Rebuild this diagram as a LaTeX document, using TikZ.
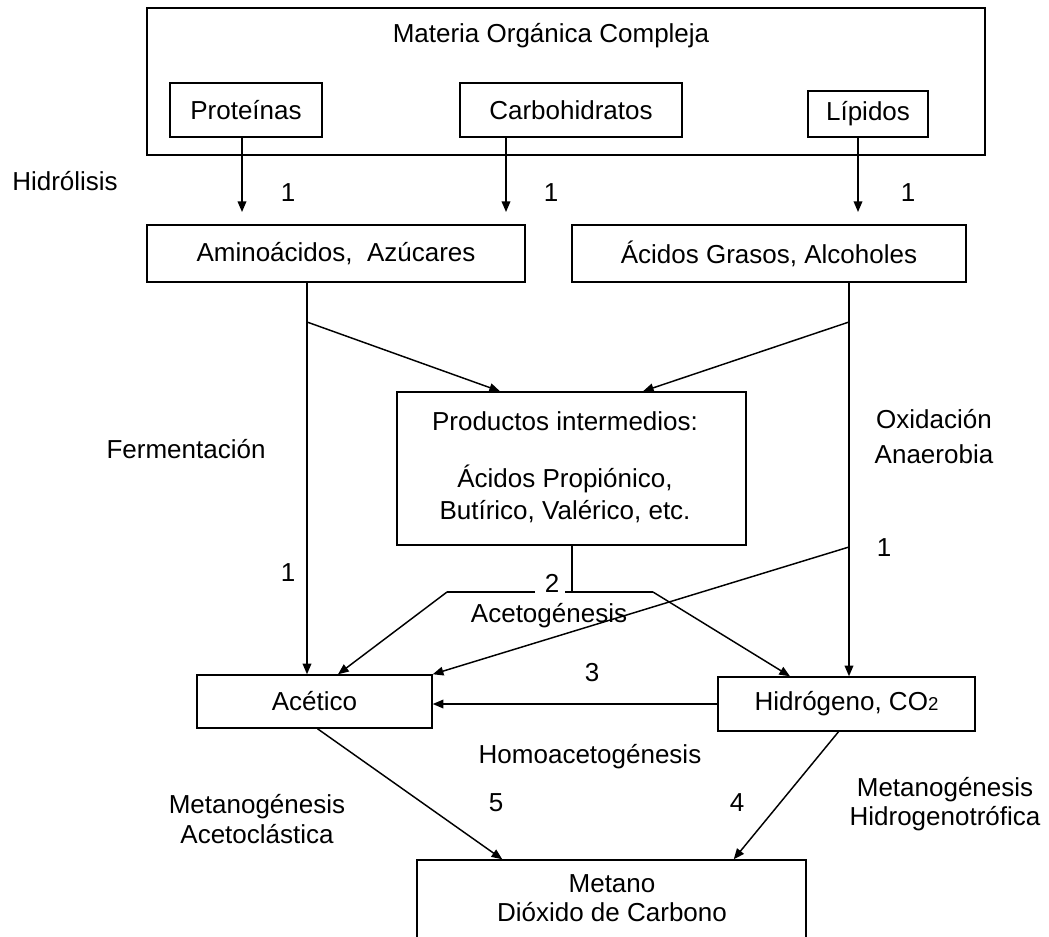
\documentclass[tikz,border=0pt]{standalone}
\usepackage{fontspec}
\setmainfont{Liberation Sans}
\usetikzlibrary{arrows.meta, calc}

\begin{document}
\begin{tikzpicture}[
    x=0.75pt, y=-0.75pt,
    font=\fontsize{19.5}{24}\selectfont,
    box/.style={draw, line width=1.1pt, inner sep=0pt, align=center},
    txt/.style={inner sep=1pt, align=center},
    arrow/.style={-{Triangle[length=8pt, width=6.5pt]}, line width=1.1pt},
    link/.style={line width=1.1pt}
]
    \useasboundingbox (0,0) rectangle (1049,936);

    % hydrolysis level
    \node[box, minimum width=628.5pt, minimum height=110.25pt] (organic) at (566,81.5) {};
    \node[txt] (title) at (551,36) {Materia Orgánica Compleja};
    \node[box, minimum width=114pt, minimum height=40.5pt] (prot) at (246,110) {Proteínas};
    \node[box, minimum width=166.5pt, minimum height=40.5pt] (carb) at (571,110) {Carbohidratos};
    \node[box, minimum width=90pt, minimum height=34.5pt] (lip) at (868,114) {Lípidos};
    \node[txt] (hidrolisis) at (65,181) {Hidrólisis};

    \node[box, minimum width=283.5pt, minimum height=42.75pt] (amino) at (336,253.5) {Aminoácidos,\ \ Azúcares};
    \node[box, minimum width=295.5pt, minimum height=42.75pt] (grasos) at (769,253.5) {Ácidos Grasos, Alcoholes};

    \coordinate (h1) at (242,212);
    \coordinate (h2) at (506,212);
    \coordinate (h3) at (858,212);
    \draw[arrow] (prot.south -| h1) -- (h1);
    \draw[arrow] (carb.south -| h2) -- (h2);
    \draw[arrow] (lip.south -| h3) -- (h3);
    \node[txt] at (288,193) {1};
    \node[txt] at (551,193) {1};
    \node[txt] at (908,193) {1};

    % fermentation / oxidation
    \node[box, minimum width=261.75pt, minimum height=114.75pt] (prod) at (571.5,468.5) {};
    \node[txt] (prodtxt) at (565,467)
        {Productos intermedios:\\[18.75pt]Ácidos Propiónico,\\Butírico, Valérico, etc.};
    \node[txt] (ferm) at (186,449) {Fermentación};
    \node[txt] (oxid) at (934,437) {Oxidación\\[2.25pt]Anaerobia};

    \node[box, minimum width=176.25pt, minimum height=39.75pt] (acet) at (314.5,701.5) {Acético};
    \node[box, minimum width=192.75pt, minimum height=40.5pt] (hidr) at (846.5,704) {Hidrógeno, CO{\fontsize{14}{14}\selectfont 2}};

    \coordinate (fa) at (307,322);
    \coordinate (fb) at (849,322);
    \coordinate (ob) at (849,547);
    \draw[arrow] (amino.south -| fa) -- (acet.north -| fa);
    \draw[arrow] (fa) -- (prod.north -| 500,0);
    \draw[arrow] (grasos.south -| fb) -- (hidr.north -| fb);
    \draw[arrow] (fb) -- (prod.north -| 643,0);
    \draw[arrow] (ob) -- (acet.north east);
    \node[txt] at (288,573) {1};
    \node[txt] at (884,548) {1};

    % acetogenesis
    \coordinate (ac) at (572,592);
    \coordinate (al) at (447,592);
    \coordinate (ar) at (653,592);
    \coordinate (gl) at (535,592);
    \coordinate (gr) at (565,592);
    \draw[link] (prod.south -| ac) -- (ac) -- (ar);
    \draw[link] (ac) -- (gr);
    \draw[link] (gl) -- (al);
    \draw[arrow] (al) -- (acet.north -| 338,0);
    \draw[arrow] (ar) -- (hidr.north -| 790,0);
    \node[txt] (two) at (552,583) {2};
    \node[txt] (acetog) at (549,616) {Acetogénesis};

    % homoacetogenesis
    \draw[arrow] (hidr.west) -- (hidr.west -| acet.east);
    \node[txt] at (592,673) {3};
    \node[txt] (homo) at (590,757) {Homoacetogénesis};

    % methanogenesis
    \node[box, minimum width=291.75pt, minimum height=67.5pt] (meta) at (611.5,905) {};
    \node[txt] (metatxt) at (612,898) {Metano\\[-2.25pt]Dióxido de Carbono};
    \draw[arrow] ($(acet.south)+(3,0)$) -- ($(meta.north west)+(86,0)$);
    \draw[arrow] ($(hidr.south)+(-8,0)$) -- ($(meta.north east)+(-73,0)$);
    \node[txt] at (496,803) {5};
    \node[txt] at (737,803) {4};
    \node[txt] (acetoclas) at (257,819) {Metanogénesis\\[-2pt]Acetoclástica};
    \node[txt] (hidrogen) at (945,804) {Metanogénesis\\[-2pt]Hidrogenotrófica};
\end{tikzpicture}
\end{document}
